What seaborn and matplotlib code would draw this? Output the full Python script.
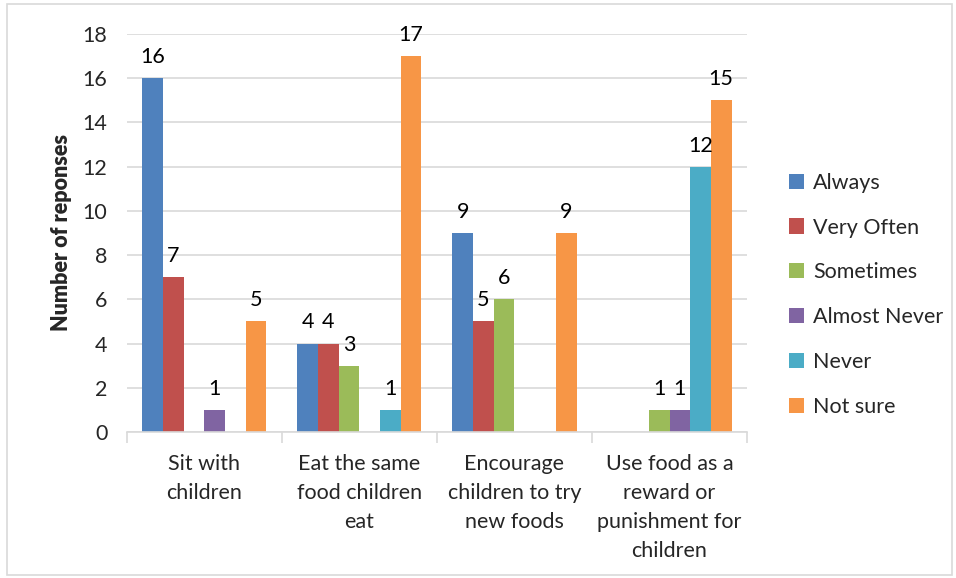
import matplotlib
matplotlib.use("Agg")
import matplotlib.pyplot as plt
import seaborn as sns
import pandas as pd
import numpy as np
from matplotlib.patches import Rectangle

categories = ["Sit with\nchildren", "Eat the same\nfood children\neat",
              "Encourage\nchildren to try\nnew foods",
              "Use food as a\nreward or\npunishment for\nchildren"]
series = ["Always", "Very Often", "Sometimes", "Almost Never", "Never", "Not sure"]
always = [16, 4, 9, 0]
very_often = [7, 4, 5, 0]
sometimes = [0, 3, 6, 1]
almost_never = [1, 0, 0, 1]
never = [0, 1, 0, 12]
not_sure = [5, 17, 9, 15]
colors = ["#4F81BD", "#C0504D", "#9BBB59", "#8064A2", "#4BACC6", "#F79646"]

values = [always, very_often, sometimes, almost_never, never, not_sure]
rows = []
for s, vals in zip(series, values):
    for c, v in zip(categories, vals):
        rows.append({"Category": c, "Response": s, "Count": v})
df = pd.DataFrame(rows)

sns.set_theme(style="white")
plt.rcParams['font.family'] = ['Lato', 'DejaVu Sans']
FS = 15.5

fig = plt.figure(figsize=(9.56, 5.78), dpi=100)
ax = fig.add_axes([0.1328, 0.2526, 0.6486, 0.6886])

sns.barplot(data=df, x="Category", y="Count", hue="Response", order=categories,
            hue_order=series, palette=colors, width=0.8, gap=0, ax=ax,
            saturation=1, edgecolor="none", linewidth=0, legend=True)

for cont in ax.containers:
    labels = [f"{int(b.get_height())}" if b.get_height() > 0 else "" for b in cont]
    ax.bar_label(cont, labels=labels, padding=8, fontsize=FS, color="#000000")

ax.set_ylim(0, 18)
ax.set_yticks(range(0, 19, 2))
ax.set_xlim(-0.5, 3.5)
ax.yaxis.grid(True, color="#D9D9D9", linewidth=1.2)
ax.set_axisbelow(True)
for sp in ["left", "right", "top"]:
    ax.spines[sp].set_visible(False)
ax.spines["bottom"].set_color("#D9D9D9")
ax.spines["bottom"].set_linewidth(1.2)

ax.set_xticks(np.arange(-0.5, 4.0, 1.0), minor=True)
ax.tick_params(axis="x", which="minor", length=8, color="#D9D9D9", width=1.2, bottom=True)
ax.tick_params(axis="x", which="major", length=0, pad=16, labelsize=FS)
ax.tick_params(axis="y", length=0, pad=14, labelsize=FS)
for lbl in ax.get_xticklabels():
    lbl.set_linespacing(1.56)
    lbl.set_horizontalalignment("center")
    lbl.set_verticalalignment("top")

ax.set_xlabel("")
ax.set_ylabel("Number of reponses", fontsize=FS, fontweight="heavy", labelpad=8)

handles, labs = ax.get_legend_handles_labels()
ax.legend(handles, labs, loc="center left", bbox_to_anchor=(1.037, 0.345), frameon=False,
          fontsize=FS, handlelength=0.7, handleheight=0.7, handletextpad=0.4,
          labelspacing=1.15)

fig.patches.append(Rectangle((7/956, 3/578), 945/956, 571/578, transform=fig.transFigure,
                             fill=False, edgecolor="#D9D9D9", linewidth=1.2))

fig.savefig("out.png", dpi=100)
